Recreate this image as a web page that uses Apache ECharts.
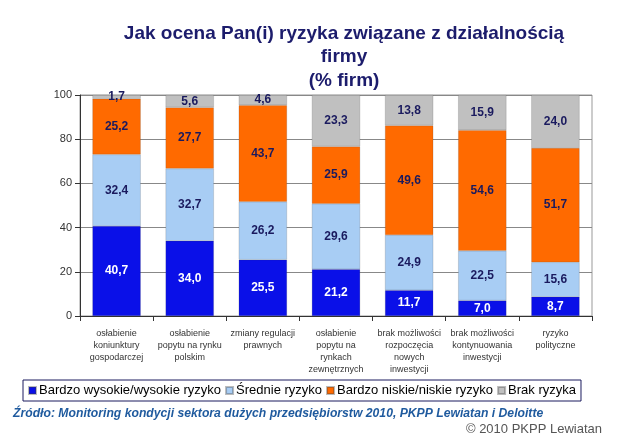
<!DOCTYPE html>
<html><head><meta charset="utf-8">
<script src="https://cdn.jsdelivr.net/npm/echarts@6/dist/echarts.min.js"></script>
<style>html,body{margin:0;padding:0;background:#fff}#c{width:640px;height:448px}</style>
</head><body><div id="c"></div>
<script>
const categories = [
  "osłabienie\nkoniunktury\ngospodarczej",
  "osłabienie\npopytu na rynku\npolskim",
  "zmiany regulacji\nprawnych",
  "osłabienie\npopytu na\nrynkach\nzewnętrznych",
  "brak możliwości\nrozpoczęcia\nnowych\ninwestycji",
  "brak możliwości\nkontynuowania\ninwestycji",
  "ryzyko\npolityczne"
];
const seriesNames = ["Bardzo wysokie/wysokie ryzyko", "Średnie ryzyko", "Bardzo niskie/niskie ryzyko", "Brak ryzyka"];
const highRisk = [40.7, 34.0, 25.5, 21.2, 11.7, 7.0, 8.7];
const mediumRisk = [32.4, 32.7, 26.2, 29.6, 24.9, 22.5, 15.6];
const lowRisk = [25.2, 27.7, 43.7, 25.9, 49.6, 54.6, 51.7];
const noRisk = [1.7, 5.6, 4.6, 23.3, 13.8, 15.9, 24.0];
const yTicks = [0, 20, 40, 60, 80, 100];

const colors = ['#0a10e8', '#a8cdf4', '#ff6a00', '#c0c0c0'];
const labelColors = ['#ffffff', '#1a1a5e', '#1a1a5e', '#1a1a5e'];
const FONT = 'Arial, "Liberation Sans", sans-serif';
const chart = echarts.init(document.getElementById('c'));
const fmt = p => p.value.toFixed(1).replace('.', ',');
const mk = (name, data, i) => ({
  name, type: 'bar', stack: 'all', data, barWidth: '66%',
  itemStyle: { color: colors[i], borderColor: 'rgba(60,60,60,0.35)', borderWidth: 0.5 },
  label: { show: true, position: 'inside', formatter: fmt, color: labelColors[i], fontWeight: 'bold', fontSize: 12, fontFamily: FONT }
});
chart.setOption({
  animation: false,
  color: colors,
  title: {
    text: 'Jak ocena Pan(i) ryzyka związane z działalnością\nfirmy\n(% firm)',
    left: 339, top: 17, textAlign: 'center',
    textStyle: { fontSize: 19, fontWeight: 'bold', color: '#1c1c6c', fontFamily: FONT, lineHeight: 23.5 }
  },
  legend: {
    left: 23, top: 380, width: 600,
    itemWidth: 7, itemHeight: 7, itemGap: 4,
    padding: [4, 5, 4, 5],
    borderColor: '#1a1a5e', borderWidth: 1,
    icon: 'rect',
    textStyle: { fontSize: 13, color: '#000', fontFamily: FONT, padding: [0, 0, 0, -2] },
    data: seriesNames
  },
  grid: { left: 80, right: 48, top: 95, bottom: 132, show: true, borderColor: '#999', borderWidth: 1 },
  xAxis: {
    type: 'category', data: categories,
    axisLine: { lineStyle: { color: '#333' } },
    axisTick: { show: true, interval: 0, length: 5, lineStyle: { color: '#333' } },
    axisLabel: { interval: 0, fontSize: 9, lineHeight: 12, color: '#333', fontFamily: FONT, margin: 12 }
  },
  yAxis: {
    type: 'value', min: 0, max: 100, interval: 20,
    axisLine: { show: true, lineStyle: { color: '#333' } },
    axisTick: { show: true, length: 5, lineStyle: { color: '#333' } },
    splitLine: { lineStyle: { color: '#888' } },
    axisLabel: { fontSize: 11, color: '#333', fontFamily: FONT, margin: 8,
      formatter: v => yTicks.includes(v) ? String(v) : '' }
  },
  graphic: [
    { type: 'text', left: 13, top: 408, style: { text: 'Źródło: Monitoring kondycji sektora dużych przedsiębiorstw 2010, PKPP Lewiatan i Deloitte', fill: '#1f5a9e', font: 'italic bold 12.2px Arial, "Liberation Sans", sans-serif' } },
    { type: 'text', right: 38, top: 423, style: { text: '© 2010 PKPP Lewiatan', fill: '#555', font: '13px Arial, "Liberation Sans", sans-serif' } }
  ],
  series: [
    mk(seriesNames[0], highRisk, 0),
    mk(seriesNames[1], mediumRisk, 1),
    mk(seriesNames[2], lowRisk, 2),
    mk(seriesNames[3], noRisk, 3)
  ]
});
</script></body></html>
